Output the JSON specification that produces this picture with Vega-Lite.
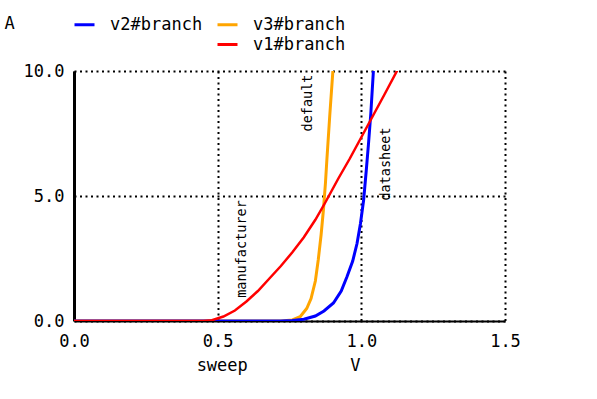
{
  "$schema": "https://vega.github.io/schema/vega-lite/v6.json",
  "width": 431,
  "height": 250,
  "autosize": {"type": "none"},
  "padding": {"left": 74, "top": 71, "right": 92, "bottom": 78},
  "background": "white",
  "config": {"view": {"stroke": null}, "font": "DejaVu Sans Mono"},
  "datasets": {
    "curves": [
      {"series": "v3#branch", "x": 0, "y": 0},
      {"series": "v3#branch", "x": 0.72, "y": 0},
      {"series": "v3#branch", "x": 0.76, "y": 0.04},
      {"series": "v3#branch", "x": 0.787, "y": 0.17},
      {"series": "v3#branch", "x": 0.81, "y": 0.5},
      {"series": "v3#branch", "x": 0.825, "y": 0.9},
      {"series": "v3#branch", "x": 0.84, "y": 1.6},
      {"series": "v3#branch", "x": 0.85, "y": 2.44},
      {"series": "v3#branch", "x": 0.86, "y": 3.45},
      {"series": "v3#branch", "x": 0.868, "y": 4.44},
      {"series": "v3#branch", "x": 0.875, "y": 5.5},
      {"series": "v3#branch", "x": 0.88, "y": 6.44},
      {"series": "v3#branch", "x": 0.89, "y": 8.2},
      {"series": "v3#branch", "x": 0.901, "y": 10},
      {"series": "v3#branch", "x": 0.91, "y": 11.6},
      {"series": "v2#branch", "x": 0, "y": 0},
      {"series": "v2#branch", "x": 0.72, "y": 0},
      {"series": "v2#branch", "x": 0.76, "y": 0.02},
      {"series": "v2#branch", "x": 0.8, "y": 0.07},
      {"series": "v2#branch", "x": 0.84, "y": 0.2},
      {"series": "v2#branch", "x": 0.87, "y": 0.4},
      {"series": "v2#branch", "x": 0.903, "y": 0.72},
      {"series": "v2#branch", "x": 0.93, "y": 1.2},
      {"series": "v2#branch", "x": 0.95, "y": 1.77},
      {"series": "v2#branch", "x": 0.97, "y": 2.4},
      {"series": "v2#branch", "x": 0.985, "y": 3.1},
      {"series": "v2#branch", "x": 0.997, "y": 3.9},
      {"series": "v2#branch", "x": 1.008, "y": 4.84},
      {"series": "v2#branch", "x": 1.017, "y": 6.0},
      {"series": "v2#branch", "x": 1.025, "y": 7.1},
      {"series": "v2#branch", "x": 1.033, "y": 8.3},
      {"series": "v2#branch", "x": 1.042, "y": 10},
      {"series": "v2#branch", "x": 1.05, "y": 11.5},
      {"series": "v1#branch", "x": 0, "y": 0},
      {"series": "v1#branch", "x": 0.45, "y": 0},
      {"series": "v1#branch", "x": 0.48, "y": 0.03},
      {"series": "v1#branch", "x": 0.52, "y": 0.18},
      {"series": "v1#branch", "x": 0.56, "y": 0.42},
      {"series": "v1#branch", "x": 0.6, "y": 0.78},
      {"series": "v1#branch", "x": 0.64, "y": 1.2},
      {"series": "v1#branch", "x": 0.68, "y": 1.7},
      {"series": "v1#branch", "x": 0.72, "y": 2.2},
      {"series": "v1#branch", "x": 0.76, "y": 2.75},
      {"series": "v1#branch", "x": 0.8, "y": 3.35},
      {"series": "v1#branch", "x": 0.84, "y": 4.05},
      {"series": "v1#branch", "x": 0.875, "y": 4.75},
      {"series": "v1#branch", "x": 0.92, "y": 5.7},
      {"series": "v1#branch", "x": 0.96, "y": 6.5},
      {"series": "v1#branch", "x": 1.0, "y": 7.35},
      {"series": "v1#branch", "x": 1.04, "y": 8.2},
      {"series": "v1#branch", "x": 1.08, "y": 9.05},
      {"series": "v1#branch", "x": 1.124, "y": 10},
      {"series": "v1#branch", "x": 1.2, "y": 11.6}
    ],
    "notes": [
      {"label": "manufacturer", "x": 0.585, "y": 2.88},
      {"label": "default", "x": 0.814, "y": 8.72},
      {"label": "datasheet", "x": 1.086, "y": 6.28}
    ]
  },
  "encoding": {
    "x": {
      "field": "x",
      "type": "quantitative",
      "scale": {"domain": [0, 1.5], "nice": false},
      "axis": {
        "values": [0, 0.5, 1, 1.5],
        "format": ".1f",
        "ticks": false,
        "labelFlush": false,
        "labelOverlap": false,
        "labelPadding": 12,
        "labelFontSize": 17,
        "labelFont": "DejaVu Sans Mono",
        "labelColor": "black",
        "domainColor": "black",
        "domainWidth": 2,
        "grid": true,
        "gridColor": "black",
        "gridOpacity": 1,
        "gridDash": [2, 3.5],
        "gridWidth": 2,
        "title": "sweep\u00a0\u00a0\u00a0\u00a0\u00a0\u00a0\u00a0\u00a0\u00a0\u00a0V",
        "titleFont": "DejaVu Sans Mono",
        "titleFontSize": 17,
        "titleFontWeight": "normal",
        "titleColor": "black",
        "titlePadding": 8,
        "titleX": 204
      }
    },
    "y": {
      "field": "y",
      "type": "quantitative",
      "scale": {"domain": [0, 10], "nice": false},
      "axis": {
        "values": [0, 5, 10],
        "format": ".1f",
        "ticks": false,
        "labelFlush": false,
        "labelOverlap": false,
        "labelPadding": 10,
        "labelFontSize": 17,
        "labelFont": "DejaVu Sans Mono",
        "labelColor": "black",
        "domainColor": "black",
        "domainWidth": 3,
        "grid": true,
        "gridColor": "black",
        "gridOpacity": 1,
        "gridDash": [2, 3.5],
        "gridWidth": 2,
        "title": "A",
        "titleFont": "DejaVu Sans Mono",
        "titleFontSize": 17,
        "titleFontWeight": "normal",
        "titleColor": "black",
        "titleAngle": 0,
        "titleAlign": "left",
        "titleBaseline": "middle",
        "titleX": -70,
        "titleY": -48
      }
    }
  },
  "layer": [
    {
      "data": {"name": "curves"},
      "transform": [{"filter": "datum.series === 'v3#branch'"}],
      "mark": {"type": "line", "clip": true, "strokeWidth": 3},
      "encoding": {
        "color": {
          "field": "series",
          "type": "nominal",
          "scale": {"domain": ["v2#branch", "v3#branch", " ", "v1#branch"], "range": ["#0000ff", "#ffa500", "rgba(0,0,0,0)", "#ff0000"]},
          "legend": {"orient": "none", "legendX": -1, "legendY": -58, "columns": 2, "direction": "horizontal", "symbolType": "stroke", "symbolSize": 400, "symbolStrokeWidth": 3, "labelFontSize": 17, "labelFont": "DejaVu Sans Mono", "labelColor": "black", "labelOffset": 14, "columnPadding": 8, "rowPadding": 0, "title": null, "padding": 0}
        }
      }
    },
    {
      "data": {"name": "curves"},
      "transform": [{"filter": "datum.series === 'v2#branch'"}],
      "mark": {"type": "line", "clip": true, "strokeWidth": 3},
      "encoding": {
        "color": {
          "field": "series",
          "type": "nominal",
          "scale": {"domain": ["v2#branch", "v3#branch", " ", "v1#branch"], "range": ["#0000ff", "#ffa500", "rgba(0,0,0,0)", "#ff0000"]},
          "legend": {"orient": "none", "legendX": -1, "legendY": -58, "columns": 2, "direction": "horizontal", "symbolType": "stroke", "symbolSize": 400, "symbolStrokeWidth": 3, "labelFontSize": 17, "labelFont": "DejaVu Sans Mono", "labelColor": "black", "labelOffset": 14, "columnPadding": 8, "rowPadding": 0, "title": null, "padding": 0}
        }
      }
    },
    {
      "data": {"name": "curves"},
      "transform": [{"filter": "datum.series === 'v1#branch'"}],
      "mark": {"type": "line", "clip": true, "strokeWidth": 2.5},
      "encoding": {
        "color": {
          "field": "series",
          "type": "nominal",
          "scale": {"domain": ["v2#branch", "v3#branch", " ", "v1#branch"], "range": ["#0000ff", "#ffa500", "rgba(0,0,0,0)", "#ff0000"]},
          "legend": {"orient": "none", "legendX": -1, "legendY": -58, "columns": 2, "direction": "horizontal", "symbolType": "stroke", "symbolSize": 400, "symbolStrokeWidth": 3, "labelFontSize": 17, "labelFont": "DejaVu Sans Mono", "labelColor": "black", "labelOffset": 14, "columnPadding": 8, "rowPadding": 0, "title": null, "padding": 0}
        }
      }
    },
    {
      "data": {"name": "notes"},
      "mark": {"type": "text", "angle": 270, "align": "center", "baseline": "middle", "fontSize": 13.5, "font": "DejaVu Sans Mono", "color": "black"},
      "encoding": {"text": {"field": "label", "type": "nominal"}}
    }
  ]
}
